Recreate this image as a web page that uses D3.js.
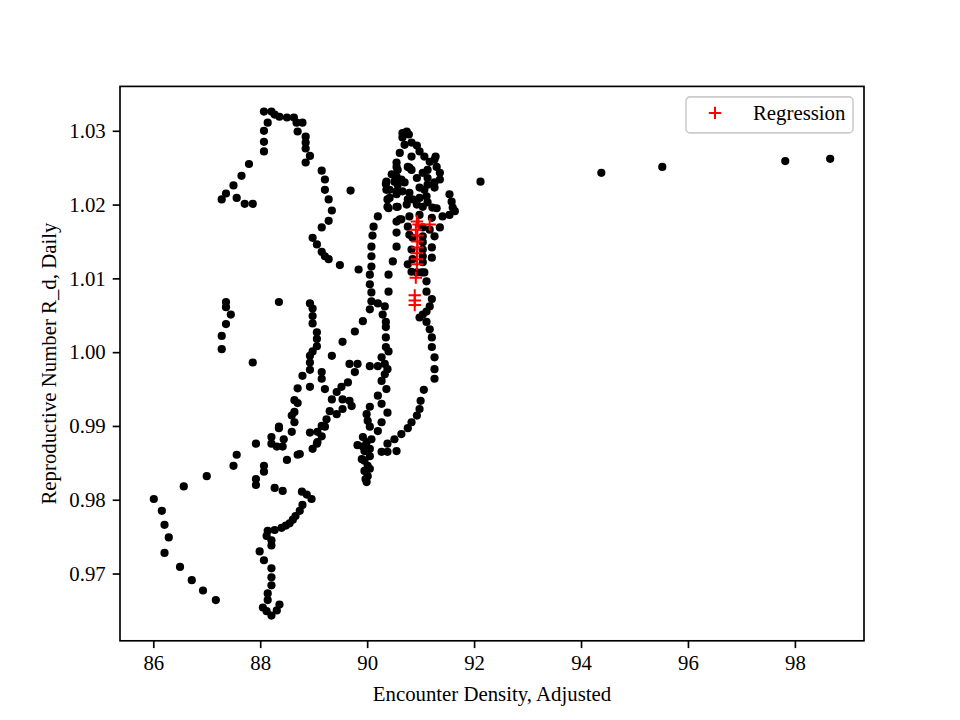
<!DOCTYPE html>
<html>
<head>
<meta charset="utf-8">
<script src="https://cdn.jsdelivr.net/npm/d3@7"></script>
<style>
  body { margin: 0; background: #fff; }
  svg { display: block; font-family: "Liberation Serif", "Times New Roman", serif; }
</style>
</head>
<body>
<svg width="960" height="720"></svg>
<script>
// DATA  [encounter density, reproductive number]

var dailyPoints = [
  // top left loop
  [88.07,1.0326],[88.21,1.0326],[88.27,1.0322],[88.36,1.0319],[88.50,1.0318],[88.63,1.0318],
  [88.68,1.0311],[88.79,1.0311],[88.70,1.0299],[88.85,1.0292],[88.85,1.0284],[88.85,1.0276],
  [88.93,1.0266],[88.85,1.0257],[88.14,1.0311],[88.07,1.0300],[88.07,1.0285],[88.07,1.0272],
  [87.79,1.0255],[87.65,1.0239],[87.50,1.0226],[87.36,1.0215],[87.28,1.0207],[87.56,1.0209],
  [87.71,1.0201],[87.86,1.0201],[89.15,1.0246],[89.21,1.0234],[89.21,1.0220],[89.28,1.0207],
  [89.34,1.0192],[89.28,1.0178],[89.15,1.0169],[89.69,1.0219],[88.98,1.0155],[89.06,1.0146],
  [89.15,1.0136],[89.21,1.0130],[89.28,1.0126],[89.49,1.0118],[89.84,1.0112],
  // columns near 90
  [90.20,1.0184],[90.12,1.0170],[90.10,1.0158],[90.08,1.0143],[90.08,1.0130],[90.08,1.0116],
  [90.05,1.0105],[90.05,1.0092],[90.08,1.0081],[90.08,1.0069],[90.05,1.0058],[90.20,1.0066],
  [90.33,1.0062],[90.29,1.0051],[90.35,1.0041],[90.35,1.0034],[90.35,1.0020],[90.35,1.0007],
  [90.40,1.0001],[90.27,0.9993],[90.40,1.0105],[90.40,1.0082],[90.48,1.0123],[90.55,1.0143],
  [90.55,1.0162],[90.55,1.0177],[90.61,1.0180],[90.55,1.0197],[90.40,1.0195],[90.38,1.0207],
  [90.36,1.0220],[90.35,1.0228],[90.55,1.0214],[90.57,1.0227],[90.55,1.0238],[90.55,1.0251],
  // dense cluster near 91
  [90.66,1.0297],[90.74,1.0299],[90.78,1.0295],[90.66,1.0291],[90.70,1.0281],[90.83,1.0284],
  [90.93,1.0280],[90.98,1.0272],[91.07,1.0265],[91.17,1.0258],[91.26,1.0261],[91.30,1.0251],
  [91.36,1.0243],[91.36,1.0234],[91.26,1.0230],[91.26,1.0223],[90.61,1.0270],[90.83,1.0265],
  [90.55,1.0257],[90.57,1.0247],[90.76,1.0251],[90.83,1.0247],[90.93,1.0236],[91.04,1.0243],
  [91.13,1.0247],[91.13,1.0236],[90.46,1.0241],[90.36,1.0231],[90.51,1.0231],[90.64,1.0234],
  [90.70,1.0230],[90.42,1.0220],[90.55,1.0218],[90.66,1.0218],[90.79,1.0216],[90.98,1.0223],
  [91.07,1.0220],[91.13,1.0227],[91.11,1.0211],[90.98,1.0209],[90.85,1.0207],[90.76,1.0207],
  [90.42,1.0209],[90.38,1.0197],[90.57,1.0197],[90.74,1.0200],[90.93,1.0200],[91.04,1.0197],
  [91.13,1.0203],[91.22,1.0196],[91.54,1.0214],[91.58,1.0204],[91.60,1.0196],[91.54,1.0186],
  [91.64,1.0191],[91.41,1.0184],[91.30,1.0195],[91.21,1.0182],[90.98,1.0186],[90.79,1.0184],
  [90.64,1.0180],[91.36,1.0169],[91.17,1.0166],[91.04,1.0169],[90.79,1.0159],[90.76,1.0170],
  [90.85,1.0155],[90.79,1.0250],[91.28,1.0265],
  // right column going down
  [90.83,1.0139],[90.85,1.0126],[90.76,1.0119],[90.83,1.0109],[90.93,1.0108],[91.02,1.0108],
  [91.07,1.0108],[91.04,1.0122],[91.04,1.0130],[91.04,1.0139],[91.04,1.0149],[91.04,1.0157],
  [91.26,1.0157],[91.21,1.0142],[91.21,1.0128],[91.11,1.0096],[91.11,1.0082],[91.21,1.0072],
  [91.17,1.0062],[91.11,1.0055],[91.04,1.0051],[90.98,1.0047],[91.11,1.0041],[91.17,1.0031],
  [91.21,1.0020],[91.21,1.0007],[91.26,0.9993],[91.26,0.9977],[91.26,0.9964],[91.06,0.9949],
  [91.00,0.9934],[90.98,0.9923],[90.93,0.9914],[90.83,0.9905],[90.76,0.9897],[90.64,0.9889],
  [90.51,0.9882],[90.38,0.9876],[90.55,0.9866],[90.38,0.9865],[90.27,0.9865],
  // middle
  [87.36,1.0068],[87.36,1.0061],[87.45,1.0051],[87.36,1.0038],[87.28,1.0022],[87.28,1.0004],
  [87.86,0.9986],[88.35,1.0068],[88.93,1.0066],[88.98,1.0059],[88.98,1.0049],[88.98,1.0039],
  [89.06,1.0027],[89.06,1.0018],[89.06,1.0008],[88.98,1.0001],[88.93,0.9995],[88.93,0.9986],
  [88.93,0.9976],[88.79,0.9968],[88.70,0.9951],[88.93,0.9953],[89.15,0.9973],[89.15,0.9964],
  [89.21,0.9950],[88.64,0.9935],[88.70,0.9931],[88.64,0.9919],[88.59,0.9914],[88.64,0.9905],
  [88.35,0.9899],[89.34,0.9995],[89.54,1.0014],[89.77,1.0028],[89.92,1.0042],[89.67,0.9984],
  [89.82,0.9984],[90.05,0.9981],[90.20,0.9981],[90.33,0.9984],[90.38,0.9977],[90.33,0.9970],
  [90.27,0.9961],[90.36,0.9950],[90.20,0.9941],[90.27,0.9930],[90.38,0.9918],[89.77,0.9973],
  [89.64,0.9959],[89.52,0.9953],[89.43,0.9946],[89.34,0.9936],[89.54,0.9936],[89.67,0.9934],
  [89.71,0.9927],[89.54,0.9923],[89.43,0.9916],[89.30,0.9920],[89.24,0.9909],[89.15,0.9900],
  [89.07,0.9892],[88.93,0.9891],[89.06,0.9876],[88.98,0.9869],[90.05,0.9926],[89.99,0.9916],
  [90.01,0.9907],[90.05,0.9899],[90.20,0.9893],[90.27,0.9905],[89.92,0.9885],[90.08,0.9882],
  [89.99,0.9878],[89.82,0.9874],[89.95,0.9866],[90.05,0.9859],[89.90,0.9855],[90.01,0.9846],
  [89.95,0.9839],[90.01,0.9832],[89.99,0.9824],[88.74,0.9862],[89.92,0.9872],[90.05,0.9869],
  [89.95,0.9853],[90.05,0.9842],[89.97,0.9828],
  // bottom left
  [86.01,0.9801],[86.16,0.9785],[86.21,0.9766],[86.29,0.9749],[86.21,0.9728],[86.50,0.9709],
  [86.72,0.9691],[86.93,0.9677],[87.17,0.9664],[86.57,0.9818],[87.00,0.9832],[87.50,0.9846],
  [87.56,0.9861],[87.92,0.9876],[87.92,0.9828],[87.92,0.9820],[88.07,0.9846],[88.07,0.9838],
  [88.27,0.9816],[88.42,0.9812],[88.21,0.9885],[88.21,0.9876],[88.35,0.9897],[88.31,0.9872],
  [88.44,0.9882],[88.42,0.9872],[88.59,0.9892],[88.50,0.9854],[88.70,0.9861],[89.07,0.9878],
  [89.15,0.9886],[89.21,0.9899],[88.78,0.9811],[88.87,0.9807],[88.96,0.9801],[88.79,0.9793],
  [88.74,0.9785],[88.66,0.9778],[88.61,0.9773],[88.55,0.9768],[88.48,0.9765],[88.40,0.9762],
  [88.27,0.9759],[88.14,0.9758],[88.12,0.9751],[88.21,0.9745],[88.21,0.9738],[87.99,0.9730],
  [88.07,0.9718],[88.21,0.9707],[88.21,0.9695],[88.21,0.9684],[88.14,0.9673],[88.14,0.9664],
  [88.05,0.9654],[88.12,0.9649],[88.21,0.9643],[88.31,0.9650],[88.36,0.9658],
  // outliers to the right
  [92.12,1.0231],[94.38,1.0243],[95.52,1.0251],[97.82,1.0259],[98.66,1.0262]
];

var regressionPoints = [
  [90.93,1.0177],[90.96,1.0173],[91.17,1.0173],[90.91,1.0166],[90.94,1.0158],[90.94,1.0150],
  [90.94,1.0142],[90.93,1.0134],[90.93,1.0126],[90.93,1.0119],[90.91,1.0101],[90.89,1.0077],
  [90.89,1.0070],[90.89,1.0064]
];

var xTicks = [86, 88, 90, 92, 94, 96, 98];
var yTicks = [0.97, 0.98, 0.99, 1.00, 1.01, 1.02, 1.03];
var xLabel = "Encounter Density, Adjusted";
var yLabel = "Reproductive Number R_d, Daily";
var legendLabel = "Regression";

// SETUP

var svg = d3.select("svg"),
  margin = { top: 86.4, right: 96, bottom: 79.2, left: 120 },
  width = 960 - margin.left - margin.right,
  height = 720 - margin.top - margin.bottom,
  fontSize = 20.8;

var all = dailyPoints.concat(regressionPoints);

// 5% padding on each side, like matplotlib autoscale
function padded(ext) {
  var m = (ext[1] - ext[0]) * 0.05;
  return [ext[0] - m, ext[1] + m];
}

var x = d3.scaleLinear()
  .domain(padded(d3.extent(all, function (d) { return d[0]; })))
  .range([0, width]);
var y = d3.scaleLinear()
  .domain(padded(d3.extent(all, function (d) { return d[1]; })))
  .range([height, 0]);

var g = svg.append("g")
  .attr("transform", "translate(" + margin.left + "," + margin.top + ")");

function plusPath(s) {
  return "M" + (-s) + ",0H" + s + "M0," + (-s) + "V" + s;
}

// DRAWING

g.selectAll(".dot")
  .data(dailyPoints)
  .enter().append("circle")
  .attr("class", "dot")
  .attr("cx", function (d) { return x(d[0]); })
  .attr("cy", function (d) { return y(d[1]); })
  .attr("r", 4.1)
  .attr("fill", "#000");

g.selectAll(".reg")
  .data(regressionPoints)
  .enter().append("path")
  .attr("class", "reg")
  .attr("transform", function (d) { return "translate(" + x(d[0]) + "," + y(d[1]) + ")"; })
  .attr("d", plusPath(6.2))
  .attr("stroke", "red")
  .attr("stroke-width", 2)
  .attr("fill", "none");

// AXES

g.append("g")
  .attr("class", "axis axis--x")
  .attr("transform", "translate(0," + height + ")")
  .call(d3.axisBottom(x).tickValues(xTicks).tickFormat(d3.format("d")).tickSize(7.3).tickPadding(7));

g.append("g")
  .attr("class", "axis axis--y")
  .call(d3.axisLeft(y).tickValues(yTicks).tickFormat(d3.format(".2f")).tickSize(7.3).tickPadding(7));

g.selectAll(".axis .domain").remove();
g.selectAll(".axis line").attr("stroke", "#000").attr("stroke-width", 1.67);
g.selectAll(".axis text")
  .style("font-size", fontSize + "px")
  .style("font-family", "Liberation Serif, Times New Roman, serif")
  .attr("fill", "#000");

// frame
g.append("rect")
  .attr("width", width)
  .attr("height", height)
  .attr("fill", "none")
  .attr("stroke", "#000")
  .attr("stroke-width", 1.67);

g.append("text")
  .attr("x", width / 2)
  .attr("y", height + 60)
  .attr("text-anchor", "middle")
  .style("font-size", fontSize + "px")
  .text(xLabel);

g.append("text")
  .attr("transform", "rotate(-90)")
  .attr("x", -height / 2)
  .attr("y", -64)
  .attr("text-anchor", "middle")
  .style("font-size", fontSize + "px")
  .text(yLabel);

// LEGEND

var legend = g.append("g")
  .attr("transform", "translate(" + (width - 178) + ",10.5)");

legend.append("rect")
  .attr("width", 167)
  .attr("height", 36)
  .attr("rx", 4)
  .attr("fill", "#fff")
  .attr("fill-opacity", 0.8)
  .attr("stroke", "#ccc")
  .attr("stroke-width", 1.6);

legend.append("path")
  .attr("transform", "translate(29,16)")
  .attr("d", plusPath(6.2))
  .attr("stroke", "red")
  .attr("stroke-width", 2)
  .attr("fill", "none");

legend.append("text")
  .attr("x", 67)
  .attr("y", 23.5)
  .style("font-size", fontSize + "px")
  .text(legendLabel);
</script>
</body>
</html>
